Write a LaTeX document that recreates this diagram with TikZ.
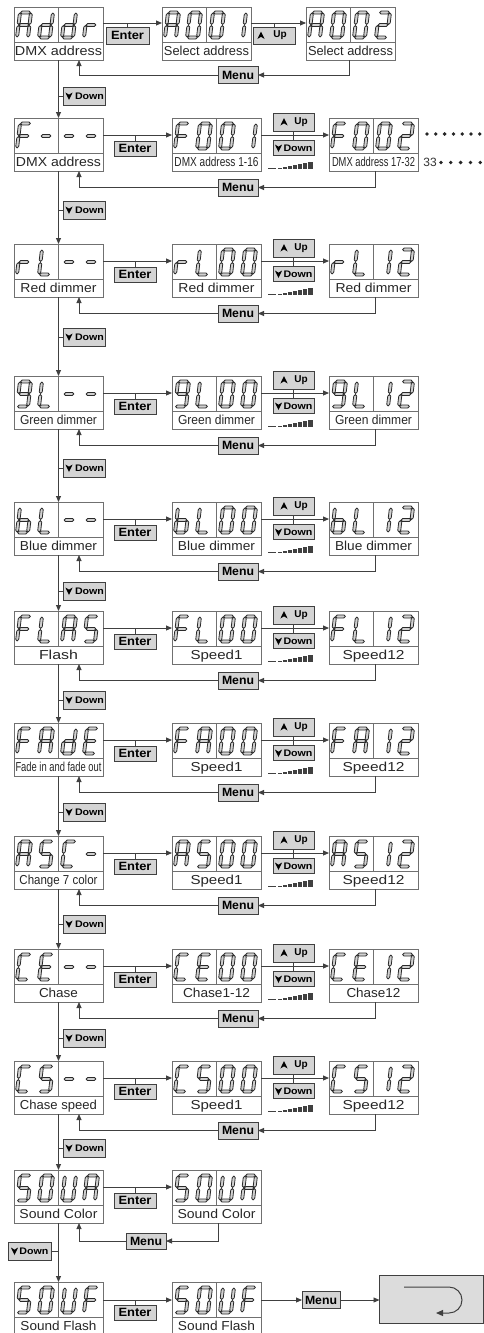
\documentclass[tikz,border=0pt]{standalone}
\usepackage{fontspec}
\setmainfont{Liberation Sans}
\usetikzlibrary{arrows.meta}

\definecolor{boxcol}{HTML}{707070}
\definecolor{lncol}{HTML}{404040}
\definecolor{btnfill}{HTML}{D4D4D4}
\definecolor{segcol}{HTML}{2A2A2A}
\definecolor{segfill}{HTML}{D0D0D0}
\definecolor{retfill}{HTML}{DCDCDC}

\newcommand\lw[2]{\resizebox{#1pt}{\height}{#2}}

% seven-segment pieces (local coords, y downwards)
\newcommand\hsg[1]{\draw[segsty] (0.6,#1) -- (2.1,#1-1.5) -- (8.9,#1-1.5) -- (10.4,#1) -- (8.9,#1+1.5) -- (2.1,#1+1.5) -- cycle;}
\newcommand\vsg[3]{\draw[segsty] (#1,#2) -- (#1+1.5,#2+1.5) -- (#1+1.5,#3-1.5) -- (#1,#3) -- (#1-1.5,#3-1.5) -- (#1-1.5,#2+1.5) -- cycle;}
\def\sga{\hsg{-25}}
\def\sgg{\hsg{-12.5}}
\def\sgd{\hsg{0}}
\def\sgf{\vsg{0}{-24.4}{-13.1}}
\def\sge{\vsg{0}{-11.9}{-0.6}}
\def\sgb{\vsg{11}{-24.4}{-13.1}}
\def\sgc{\vsg{11}{-11.9}{-0.6}}
\def\sgz{}

\newcommand\defch[2]{\expandafter\def\csname ch#1\endcsname{#2}}
\defch{A}{a,b,c,e,f,g}
\defch{d}{b,c,d,e,g}
\defch{r}{e,g}
\defch{0}{a,b,c,d,e,f}
\defch{1}{b,c}
\defch{2}{a,b,g,e,d}
\defch{F}{a,f,g,e}
\defch{m}{g}
\defch{L}{f,e,d}
\defch{9}{a,b,c,d,f,g}
\defch{b}{f,e,d,c,g}
\defch{S}{a,f,g,c,d}
\defch{E}{a,f,g,e,d}
\defch{C}{a,f,e,d}
\defch{U}{f,e,d,c,b}

\newcommand\dig[3]{\begin{scope}[shift={(#1,#2)},xslant=0.12]
 \expandafter\let\expandafter\seglist\csname ch#3\endcsname
 \foreach \sgn in \seglist {\csname sg\sgn\endcsname}
 \end{scope}}

\newcommand\disp[8]{%
 \node[dispbox] (#1) at (#2,#3) {};
 \draw[boxsty] (#2,#3+35) -- (#2+89,#3+35);
 \draw[boxsty] (#2+44.5,#3) -- (#2+44.5,#3+35);
 \dig{#2+3}{#3+30.5}{#4}\dig{#2+25}{#3+30.5}{#5}\dig{#2+48}{#3+30.5}{#6}\dig{#2+70}{#3+30.5}{#7}
 \node[lblsty] (#1t) at (#2+44.5,#3+48.5) {#8};
}

\newcommand\upsym[2]{\fill[black] (#1,#2-4) -- (#1+3.6,#2+3.5) -- (#1,#2+1.3) -- (#1-3.6,#2+3.5) -- cycle;}
\newcommand\dnsym[2]{\fill[black] (#1,#2+4) -- (#1+3.6,#2-3.5) -- (#1,#2-1.3) -- (#1-3.6,#2-3.5) -- cycle;}

\newcommand\ramp[1]{\foreach \rx/\rw/\rh in {268/8/1, 278/4/1.5, 283/4/2.5, 288/4/3.5, 293/4/4.5, 298/4/5.5, 303/4/6.5, 308/5/7.5} {\fill[lncol] (\rx,#1+51) rectangle (\rx+\rw,#1+51-\rh);}}

\newcommand\stdconn[2]{%
 \coordinate (#1y) at (0,#2+17);
 \node[btnsty, minimum width=42pt, minimum height=15pt] (#1en) at (135,#2+30.5) {\lw{33}{Enter}};
 \draw[arrsty] (#1a.east |- #1y) -- (#1b.west |- #1y);
 \draw[lnsty] (#1en.north) -- (#1en.north |- #1y);
 \node[btnsty, minimum width=41pt, minimum height=18pt] (#1up) at (293.5,#2+4) {};
 \upsym{284}{#2+4}
 \node[btntxt, font=\bfseries\fontsize{10}{10}\selectfont] (#1upt) at (301,#2+4) {Up};
 \node[btnsty, minimum width=41pt, minimum height=15pt] (#1dn) at (293.5,#2+30) {};
 \dnsym{278.5}{#2+30}
 \node[btntxt] (#1dnt) at (298,#2+30) {\lw{29}{Down}};
 \draw[arrsty] (#1b.east |- #1y) -- (#1c.west |- #1y);
 \draw[lnsty] (#1up.south) -- (#1dn.north);
 \ramp{#2}
 \node[btnsty, minimum width=40pt, minimum height=17pt] (#1mn) at (238,#2+69.5) {\lw{32}{Menu}};
 \draw[arrsty] (#1c.south -| 375,0) |- (#1mn.east);
 \draw[arrsty] (#1mn.west) -| (#1a.south -| 79,0);
}

\newcommand\downconn[3]{%
 \draw[arrsty] (#1a.south) -- (#2a.north);
 \node[btnsty, minimum width=42pt, minimum height=18pt] (#1dw) at (84,#3) {};
 \dnsym{69}{#3}
 \node[btntxt] (#1dwt) at (89.5,#3) {\lw{29}{Down}};
 \draw[lnsty] (#1dw.west) -- (#1dw.west -| #1a.south);
}

\begin{document}
\begin{tikzpicture}[x=1pt,y=-1pt,
 segsty/.style={draw=segcol, line width=0.8pt, fill=segfill, line join=miter},
 dispbox/.style={draw=boxcol, line width=0.9pt, minimum width=89pt, minimum height=53pt, inner sep=0pt, outer sep=0pt, anchor=north west},
 boxsty/.style={draw=boxcol, line width=0.9pt},
 lblsty/.style={anchor=base, font=\fontsize{13}{13}\selectfont, inner sep=0pt, text=black!85},
 btnsty/.style={draw=lncol, fill=btnfill, line width=0.8pt, inner sep=0pt, outer sep=0pt, font=\bfseries\fontsize{12}{12}\selectfont},
 btntxt/.style={inner sep=0pt, font=\bfseries\fontsize{9.5}{9.5}\selectfont},
 lnsty/.style={draw=lncol, line width=0.9pt},
 arrsty/.style={draw=lncol, line width=0.9pt, -{Triangle[length=6pt,width=5pt]}},
]
\useasboundingbox (0,0) rectangle (484,1333);

% ---------- row 1
\disp{Aa}{14}{7}{A}{d}{d}{r}{\lw{87}{DMX address}}
\disp{Ab}{162}{7}{A}{0}{0}{1}{\lw{85}{Select address}}
\disp{Ac}{306}{7}{A}{0}{0}{2}{\lw{85}{Select address}}
\coordinate (Ay) at (0,23);
\node[btnsty, minimum width=43pt, minimum height=17pt] (Aen) at (127.5,35.5) {\lw{33}{Enter}};
\draw[arrsty] (Aa.east |- Ay) -- (Ab.west |- Ay);
\draw[lnsty] (Aen.north) -- (Aen.north |- Ay);
\node[btnsty, minimum width=42pt, minimum height=17pt] (Aup) at (274,35.5) {};
\upsym{261}{35.5}
\node[btntxt, font=\bfseries\fontsize{10}{10}\selectfont] (Aupt) at (280,35.5) {Up};
\draw[arrsty] (Ab.east |- Ay) -- (Ac.west |- Ay);
\draw[lnsty] (Aup.north) -- (Aup.north |- Ay);
\node[btnsty, minimum width=40pt, minimum height=17pt] (Amn) at (238,75) {\lw{32}{Menu}};
\draw[arrsty] (Ac.south -| 349,0) |- (Amn.east);
\draw[arrsty] (Amn.west) -| (Aa.south -| 79,0);

% ---------- row 2
\disp{Ba}{14}{118}{F}{m}{m}{m}{\lw{85}{DMX address}}
\disp{Bb}{172}{118}{F}{0}{0}{1}{\lw{84}{DMX address 1-16}}
\disp{Bc}{329}{118}{F}{0}{0}{2}{\lw{83}{DMX address 17-32}}
\stdconn{B}{118}
\foreach \i in {0,...,6} \fill[black!85] (427+\i*8.8,134) circle (1.9pt);
\node[inner sep=0pt, font=\fontsize{12}{12}\selectfont, text=black!80] (n33) at (430,162.5) {33};
\foreach \i in {0,...,4} \fill[black!85] (441+\i*9.8,162.5) circle (1.9pt);

% ---------- row 3
\disp{Ca}{14}{244}{r}{L}{m}{m}{\lw{76}{Red dimmer}}
\disp{Cb}{172}{244}{r}{L}{0}{0}{\lw{76}{Red dimmer}}
\disp{Cc}{329}{244}{r}{L}{1}{2}{\lw{76}{Red dimmer}}
\stdconn{C}{244}

% ---------- row 4
\disp{Da}{14}{376}{9}{L}{m}{m}{\lw{77}{Green dimmer}}
\disp{Db}{172}{376}{9}{L}{0}{0}{\lw{77}{Green dimmer}}
\disp{Dc}{329}{376}{9}{L}{1}{2}{\lw{77}{Green dimmer}}
\stdconn{D}{376}

% ---------- row 5
\disp{Ea}{14}{502}{b}{L}{m}{m}{\lw{77}{Blue dimmer}}
\disp{Eb}{172}{502}{b}{L}{0}{0}{\lw{77}{Blue dimmer}}
\disp{Ec}{329}{502}{b}{L}{1}{2}{\lw{77}{Blue dimmer}}
\stdconn{E}{502}

% ---------- row 6
\disp{Fa}{14}{611}{F}{L}{A}{S}{\lw{39}{Flash}}
\disp{Fb}{172}{611}{F}{L}{0}{0}{\lw{52}{Speed1}}
\disp{Fc}{329}{611}{F}{L}{1}{2}{\lw{62}{Speed12}}
\stdconn{F}{611}

% ---------- row 7
\disp{Ga}{14}{723}{F}{A}{d}{E}{\lw{86}{Fade in and fade out}}
\disp{Gb}{172}{723}{F}{A}{0}{0}{\lw{52}{Speed1}}
\disp{Gc}{329}{723}{F}{A}{1}{2}{\lw{62}{Speed12}}
\stdconn{G}{723}

% ---------- row 8
\disp{Ha}{14}{836}{A}{S}{C}{m}{\lw{78}{Change 7 color}}
\disp{Hb}{172}{836}{A}{S}{0}{0}{\lw{52}{Speed1}}
\disp{Hc}{329}{836}{A}{S}{1}{2}{\lw{62}{Speed12}}
\stdconn{H}{836}

% ---------- row 9
\disp{Ia}{14}{949}{C}{E}{m}{m}{\lw{39}{Chase}}
\disp{Ib}{172}{949}{C}{E}{0}{0}{\lw{67}{Chase1-12}}
\disp{Ic}{329}{949}{C}{E}{1}{2}{\lw{54}{Chase12}}
\stdconn{I}{949}

% ---------- row 10
\disp{Ja}{14}{1061}{C}{S}{m}{m}{\lw{77}{Chase speed}}
\disp{Jb}{172}{1061}{C}{S}{0}{0}{\lw{52}{Speed1}}
\disp{Jc}{329}{1061}{C}{S}{1}{2}{\lw{62}{Speed12}}
\stdconn{J}{1061}

% ---------- row 11
\disp{Ka}{14}{1170}{S}{0}{U}{A}{\lw{78}{Sound Color}}
\disp{Kb}{172}{1170}{S}{0}{U}{A}{\lw{78}{Sound Color}}
\coordinate (Ky) at (0,1187);
\node[btnsty, minimum width=42pt, minimum height=15pt] (Ken) at (135,1200.5) {\lw{33}{Enter}};
\draw[arrsty] (Ka.east |- Ky) -- (Kb.west |- Ky);
\draw[lnsty] (Ken.north) -- (Ken.north |- Ky);
\node[btnsty, minimum width=40pt, minimum height=16pt] (Kmn) at (146,1241) {\lw{32}{Menu}};
\draw[arrsty] (Kb.south -| 218,0) |- (Kmn.east);
\draw[arrsty] (Kmn.west) -| (Ka.south -| 79,0);

% ---------- row 12
\disp{La}{14}{1282}{S}{0}{U}{F}{\lw{76}{Sound Flash}}
\disp{Lb}{172}{1282}{S}{0}{U}{F}{\lw{77}{Sound Flash}}
\coordinate (Ly) at (0,1300);
\node[btnsty, minimum width=42pt, minimum height=15pt] (Len) at (135,1312.5) {\lw{33}{Enter}};
\draw[arrsty] (La.east |- Ly) -- (Lb.west |- Ly);
\draw[lnsty] (Len.north) -- (Len.north |- Ly);
\node[btnsty, minimum width=38pt, minimum height=17pt] (Lmn) at (321,1300) {\lw{32}{Menu}};
\draw[arrsty] (Lb.east |- Ly) -- (Lmn.west);
\node[draw=lncol, fill=retfill, line width=0.9pt, minimum width=104pt, minimum height=48pt, inner sep=0pt, outer sep=0pt, anchor=north west] (ret) at (379.5,1275) {};
\draw[arrsty] (Lmn.east) -- (ret.west |- Lmn.east);
\draw[lnsty, line width=1pt, -{Triangle[length=7pt,width=6pt]}] (404,1287) -- (449,1287) arc[start angle=90, end angle=-90, radius=13pt] -- (436,1313);

% ---------- down connections
\downconn{A}{B}{96}
\downconn{B}{C}{210}
\downconn{C}{D}{337}
\downconn{D}{E}{468}
\downconn{E}{F}{591}
\downconn{F}{G}{700}
\downconn{G}{H}{812}
\downconn{H}{I}{924}
\downconn{I}{J}{1038}
\downconn{J}{K}{1148}
\draw[arrsty] (Ka.south) -- (La.north);
\node[btnsty, minimum width=43pt, minimum height=18pt] (Kdw) at (29.5,1251) {};
\dnsym{14.5}{1251}
\node[btntxt] (Kdwt) at (34,1251) {\lw{29}{Down}};
\draw[lnsty] (Kdw.east) -- (Kdw.east -| Ka.south);
\end{tikzpicture}
\end{document}
